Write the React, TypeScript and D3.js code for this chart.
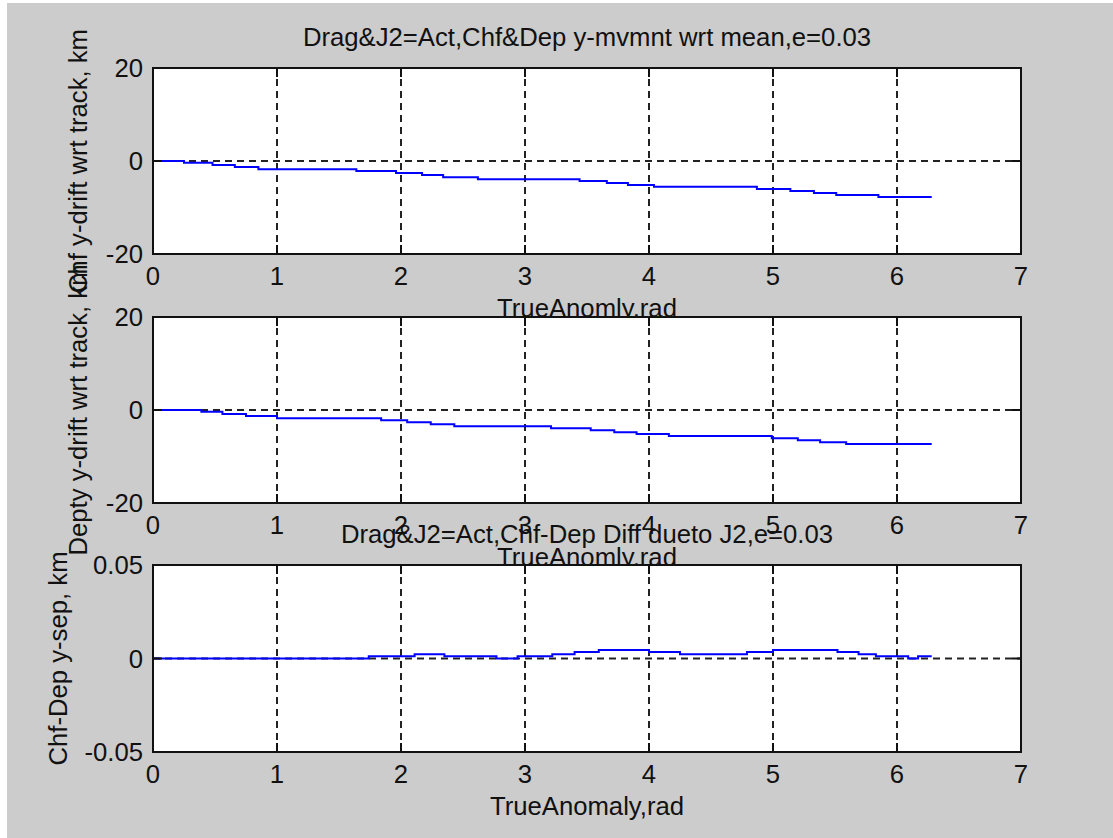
import React from 'react';
import * as d3 from 'd3';

const W = 1113;
const H = 838;

// x axis: true anomaly, rad
const xTicks = [0, 1, 2, 3, 4, 5, 6, 7];
const yTicksDrift = [-20, 0, 20];
const yTicksSep = [-0.05, 0, 0.05];
const yTickLabelsSep = ['-0.05', '0', '0.05'];

// Chief y-drift wrt track (km): step start angle -> level
const chfAngle = [0, 0.25, 0.48, 0.66, 0.85, 1.64, 1.96, 2.17, 2.34, 2.62, 3.44, 3.66, 3.83, 4.04, 4.87, 5.14, 5.33, 5.51, 5.85, 6.28];
const chfDrift = [0, -0.37, -0.86, -1.29, -1.78, -2.15, -2.58, -3.0, -3.5, -3.9, -4.3, -4.73, -5.16, -5.53, -6.02, -6.45, -6.88, -7.31, -7.74, -7.74];

// Deputy y-drift wrt track (km)
const depAngle = [0, 0.39, 0.56, 0.75, 1.0, 1.84, 2.05, 2.24, 2.43, 3.21, 3.53, 3.72, 3.9, 4.16, 4.99, 5.2, 5.38, 5.59, 6.28];
const depDrift = [0, -0.37, -0.86, -1.29, -1.78, -2.22, -2.65, -3.08, -3.5, -3.94, -4.37, -4.8, -5.16, -5.59, -6.09, -6.52, -6.95, -7.31, -7.31];

// Chief-Deputy y separation (km)
const sepAngle = [0, 1.74, 2.11, 2.35, 2.77, 2.94, 3.22, 3.4, 3.595, 4.0, 4.25, 4.79, 5.0, 5.52, 5.69, 5.83, 6.09, 6.17, 6.28];
const sepValue = [0, 0.0012, 0.0023, 0.0012, 0, 0.0012, 0.0023, 0.0035, 0.0045, 0.0035, 0.0023, 0.0035, 0.0045, 0.0035, 0.0023, 0.0012, 0, 0.0012, 0.0012];

const FONT = "'Liberation Sans', Arial, Helvetica, sans-serif";
const FS = 25.7;
const INK = '#111';

type PanelProps = {
  top: number;
  bottom: number;
  xs: number[];
  ys: number[];
  yDomain: [number, number];
  yTicks: number[];
  yTickLabels: string[];
  title?: string;
  xLabel: string;
  yLabel: string;
  yLabelX: number;
};

const LEFT = 153;
const RIGHT = 1021;
const TICK = 9;

function Panel(p: PanelProps) {
  const x = d3.scaleLinear().domain([0, 7]).range([LEFT, RIGHT]);
  const y = d3.scaleLinear().domain(p.yDomain).range([p.bottom, p.top]);
  const pts: [number, number][] = p.xs.map((v, i) => [v, p.ys[i]]);
  const line = d3
    .line<[number, number]>()
    .x((d) => x(d[0]))
    .y((d) => y(d[1]))
    .curve(d3.curveStepAfter);
  const midY = (p.top + p.bottom) / 2;
  const innerX = xTicks.filter((t) => t > 0 && t < 7);
  const innerY = p.yTicks.filter((t) => t > p.yDomain[0] && t < p.yDomain[1]);
  return (
    <g>
      <rect x={LEFT} y={p.top} width={RIGHT - LEFT} height={p.bottom - p.top} fill="#fff" />
      {/* grid */}
      {innerX.map((t) => (
        <line key={'gx' + t} x1={x(t)} x2={x(t)} y1={p.bottom} y2={p.top} stroke="#222" strokeWidth={2} strokeDasharray="7,5" />
      ))}
      {innerY.map((t) => (
        <line key={'gy' + t} x1={LEFT} x2={RIGHT} y1={y(t)} y2={y(t)} stroke="#222" strokeWidth={2} strokeDasharray="7,5" />
      ))}
      {/* data */}
      <path d={line(pts) || ''} fill="none" stroke="#0000ff" strokeWidth={2} />
      {/* box */}
      <rect x={LEFT} y={p.top} width={RIGHT - LEFT} height={p.bottom - p.top} fill="none" stroke={INK} strokeWidth={2} />
      {/* ticks */}
      {xTicks.map((t) => (
        <g key={'tx' + t}>
          <line x1={x(t)} x2={x(t)} y1={p.bottom} y2={p.bottom - TICK} stroke={INK} strokeWidth={2} />
          <line x1={x(t)} x2={x(t)} y1={p.top} y2={p.top + TICK} stroke={INK} strokeWidth={2} />
        </g>
      ))}
      {p.yTicks.map((t) => (
        <g key={'ty' + t}>
          <line x1={LEFT} x2={LEFT + TICK} y1={y(t)} y2={y(t)} stroke={INK} strokeWidth={2} />
          <line x1={RIGHT} x2={RIGHT - TICK} y1={y(t)} y2={y(t)} stroke={INK} strokeWidth={2} />
        </g>
      ))}
      {/* tick labels */}
      {xTicks.map((t) => (
        <text key={'lx' + t} x={x(t)} y={p.bottom + 31} textAnchor="middle" fontFamily={FONT} fontSize={FS} fill={INK}>
          {t}
        </text>
      ))}
      {p.yTicks.map((t, i) => (
        <text key={'ly' + t} x={LEFT - 10} y={y(t) + 9} textAnchor="end" fontFamily={FONT} fontSize={FS} fill={INK}>
          {p.yTickLabels[i]}
        </text>
      ))}
      {p.title && (
        <text x={(LEFT + RIGHT) / 2} y={p.top - 22} textAnchor="middle" fontFamily={FONT} fontSize={FS} fill={INK}>
          {p.title}
        </text>
      )}
      <text x={(LEFT + RIGHT) / 2} y={p.bottom + 63} textAnchor="middle" fontFamily={FONT} fontSize={FS} fill={INK}>
        {p.xLabel}
      </text>
      <text
        transform={`translate(${p.yLabelX},${midY}) rotate(-90)`}
        textAnchor="middle"
        fontFamily={FONT}
        fontSize={FS}
        fill={INK}
      >
        {p.yLabel}
      </text>
    </g>
  );
}

export default function App() {
  const driftLabels = yTicksDrift.map((t) => String(t));
  return (
    <svg width={W} height={H} style={{ position: 'absolute', left: 0, top: 0, display: 'block' }}>
      <rect x={0} y={0} width={W} height={H} fill="#fff" />
      <rect x={7} y={3} width={W - 7} height={H - 3} fill="#cccccc" />
      <Panel
        top={68}
        bottom={254}
        xs={chfAngle}
        ys={chfDrift}
        yDomain={[-20, 20]}
        yTicks={yTicksDrift}
        yTickLabels={driftLabels}
        title="Drag&J2=Act,Chf&Dep y-mvmnt wrt mean,e=0.03"
        xLabel="TrueAnomly,rad"
        yLabel="Chf y-drift wrt track, km"
        yLabelX={87}
      />
      <Panel
        top={317}
        bottom={503}
        xs={depAngle}
        ys={depDrift}
        yDomain={[-20, 20]}
        yTicks={yTicksDrift}
        yTickLabels={driftLabels}
        xLabel="TrueAnomly,rad"
        yLabel="Depty y-drift wrt track, km"
        yLabelX={87}
      />
      <Panel
        top={565}
        bottom={752}
        xs={sepAngle}
        ys={sepValue}
        yDomain={[-0.05, 0.05]}
        yTicks={yTicksSep}
        yTickLabels={yTickLabelsSep}
        title="Drag&J2=Act,Chf-Dep Diff dueto J2,e=0.03"
        xLabel="TrueAnomaly,rad"
        yLabel="Chf-Dep y-sep, km"
        yLabelX={67}
      />
    </svg>
  );
}
